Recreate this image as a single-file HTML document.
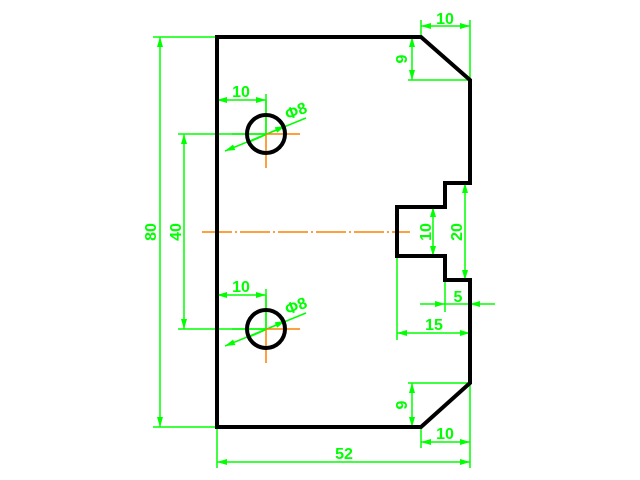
<!DOCTYPE html>
<html><head><style>html,body{margin:0;padding:0;background:#fff;}svg{display:block}</style></head>
<body>
<svg width="640" height="480" viewBox="0 0 640 480" xmlns="http://www.w3.org/2000/svg">
<defs>
<marker id="a" viewBox="0 0 10 6" refX="10" refY="3" markerWidth="10" markerHeight="6" orient="auto-start-reverse" markerUnits="userSpaceOnUse">
<path d="M0,0 L10,3 L0,6 z" fill="#00ff00"/></marker>
</defs>
<g stroke="#00ff00" stroke-width="1.5" fill="none">
<line x1="153" y1="37" x2="217" y2="37"/>
<line x1="153" y1="427" x2="217" y2="427"/>
<line x1="160" y1="37" x2="160" y2="427" marker-start="url(#a)" marker-end="url(#a)"/>
<line x1="178" y1="134" x2="266" y2="134"/>
<line x1="178" y1="329" x2="266" y2="329"/>
<line x1="184" y1="134" x2="184" y2="329" marker-start="url(#a)" marker-end="url(#a)"/>
<line x1="217" y1="94" x2="217" y2="146"/>
<line x1="266" y1="94" x2="266" y2="134"/>
<line x1="217" y1="100" x2="266" y2="100" marker-start="url(#a)" marker-end="url(#a)"/>
<line x1="225" y1="151" x2="306" y2="118" marker-start="url(#a)"/>
<line x1="247" y1="143" x2="285" y2="126" marker-end="url(#a)"/>
<line x1="217" y1="289" x2="217" y2="341"/>
<line x1="266" y1="289" x2="266" y2="329"/>
<line x1="217" y1="295" x2="266" y2="295" marker-start="url(#a)" marker-end="url(#a)"/>
<line x1="225" y1="346" x2="306" y2="313" marker-start="url(#a)"/>
<line x1="247" y1="338" x2="285" y2="321" marker-end="url(#a)"/>
<line x1="421" y1="20" x2="421" y2="37"/>
<line x1="470" y1="20" x2="470" y2="80"/>
<line x1="421" y1="26" x2="470" y2="26" marker-start="url(#a)" marker-end="url(#a)"/>
<line x1="408" y1="37" x2="421" y2="37"/>
<line x1="408" y1="80" x2="470" y2="80"/>
<line x1="412" y1="37" x2="412" y2="80" marker-start="url(#a)" marker-end="url(#a)"/>
<line x1="408" y1="383" x2="470" y2="383"/>
<line x1="408" y1="427" x2="421" y2="427"/>
<line x1="412" y1="383" x2="412" y2="427" marker-start="url(#a)" marker-end="url(#a)"/>
<line x1="421" y1="427" x2="421" y2="448"/>
<line x1="421" y1="442" x2="470" y2="442" marker-start="url(#a)" marker-end="url(#a)"/>
<line x1="217" y1="427" x2="217" y2="468"/>
<line x1="470" y1="383" x2="470" y2="468"/>
<line x1="217" y1="462" x2="470" y2="462" marker-start="url(#a)" marker-end="url(#a)"/>
<line x1="397" y1="207" x2="445" y2="207"/>
<line x1="397" y1="256" x2="445" y2="256"/>
<line x1="433" y1="207" x2="433" y2="256" marker-start="url(#a)" marker-end="url(#a)"/>
<line x1="445" y1="183" x2="470" y2="183"/>
<line x1="445" y1="280" x2="470" y2="280"/>
<line x1="465" y1="183" x2="465" y2="280" marker-start="url(#a)" marker-end="url(#a)"/>
<line x1="445" y1="280" x2="445" y2="312"/>
<line x1="470" y1="280" x2="470" y2="340"/>
<line x1="420" y1="304" x2="445" y2="304" marker-end="url(#a)"/>
<line x1="495" y1="304" x2="470" y2="304" marker-end="url(#a)"/>
<line x1="445" y1="304" x2="470" y2="304"/>
<line x1="397" y1="256" x2="397" y2="340"/>
<line x1="397" y1="333" x2="470" y2="333" marker-start="url(#a)" marker-end="url(#a)"/>
</g>
<g stroke="#ff8000" stroke-width="1.5">
<line x1="202" y1="232" x2="410" y2="232" stroke-dasharray="30,3,2,3"/>
<line x1="266" y1="134" x2="300" y2="134"/>
<line x1="266" y1="134" x2="266" y2="168"/>
<line x1="266" y1="329" x2="300" y2="329"/>
<line x1="266" y1="329" x2="266" y2="363"/>
</g>
<g stroke="#00ff00" stroke-width="1.5">
<line x1="232" y1="134" x2="266" y2="134"/><line x1="266" y1="100" x2="266" y2="134"/>
<line x1="232" y1="329" x2="266" y2="329"/><line x1="266" y1="295" x2="266" y2="329"/>
</g>
<g stroke="#000" stroke-width="4" fill="none" stroke-linejoin="miter">
<path d="M217,37 L421,37 L470,80 L470,183 L445,183 L445,207 L397,207 L397,256 L445,256 L445,280 L470,280 L470,383 L421,427 L217,427 Z"/>
<circle cx="266" cy="134" r="19"/>
<circle cx="266" cy="329" r="19"/>
</g>
<g fill="#00ff00" font-family="Liberation Sans, sans-serif" font-weight="bold" font-size="16" text-anchor="middle">
<text x="241" y="97">10</text>
<text x="241" y="292">10</text>
<text x="298" y="116" transform="rotate(-22 298 116)">Φ8</text>
<text x="298" y="311" transform="rotate(-22 298 311)">Φ8</text>
<text x="445" y="24">10</text>
<text x="445" y="439">10</text>
<text x="344" y="459">52</text>
<text x="434" y="330">15</text>
<text x="458" y="302">5</text>
<text transform="translate(156,232) rotate(-90)">80</text>
<text transform="translate(181,232) rotate(-90)">40</text>
<text transform="translate(407,59) rotate(-90)">9</text>
<text transform="translate(407,405) rotate(-90)">9</text>
<text transform="translate(431,232) rotate(-90)">10</text>
<text transform="translate(462,232) rotate(-90)">20</text>
</g>
</svg>
</body></html>
